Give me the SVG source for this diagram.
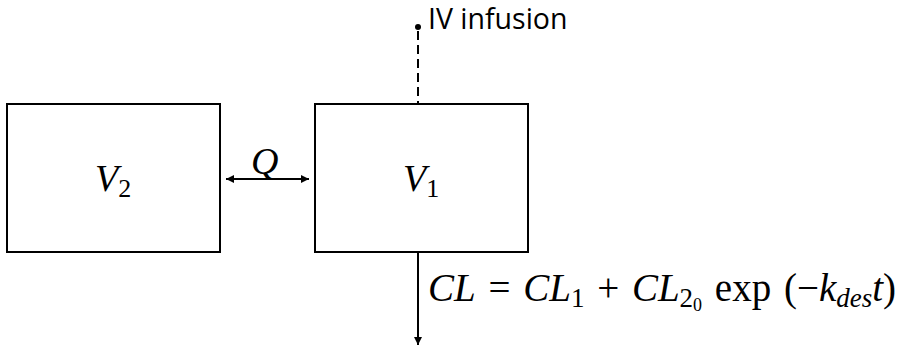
<svg xmlns="http://www.w3.org/2000/svg" width="898" height="349" viewBox="0 0 898 349">
<style>
.box{fill:#fff;stroke:#000;stroke-width:2}
.ln{stroke:#000;stroke-width:2;fill:none}
.m{font-family:"Liberation Serif","DejaVu Serif",serif;font-size:38px;fill:#000}
.eq{font-size:39px;word-spacing:3px}
.i{font-style:italic}
.lbl{font-family:"Open Sans","Liberation Sans",sans-serif;font-size:28.5px;fill:#000}
</style>
<defs>
<marker id="ah" viewBox="0 0 10 10" refX="10" refY="5" markerWidth="8" markerHeight="8" markerUnits="userSpaceOnUse" orient="auto-start-reverse">
<path d="M0,0 L10,5 L0,10 z" fill="#000"/>
</marker>
</defs>
<g id="V2">
<rect class="box" x="7" y="104" width="213" height="148"/>
<text class="m" x="95" y="191"><tspan class="i">V</tspan><tspan font-size="26" dy="6">2</tspan></text>
</g>
<g id="V1">
<rect class="box" x="315" y="104" width="213" height="148"/>
<text class="m" x="403" y="191"><tspan class="i">V</tspan><tspan font-size="26" dy="6">1</tspan></text>
</g>
<g id="infusion">
<circle cx="418" cy="27" r="3" fill="#000"/>
<text class="lbl" x="428" y="29">IV infusion</text>
</g>
<g id="connectors">
<line class="ln" x1="418" y1="31" x2="418" y2="104" stroke-dasharray="9,5"/>
<line class="ln" x1="226" y1="179" x2="309" y2="179" marker-start="url(#ah)" marker-end="url(#ah)"/>
<line class="ln" x1="418" y1="252" x2="418" y2="345" marker-end="url(#ah)"/>
</g>
<g id="labels">
<text class="m i" x="251" y="174">Q</text>
<text class="m eq" x="428" y="301"><tspan class="i">CL</tspan> = <tspan class="i">CL</tspan><tspan font-size="27" dy="6">1</tspan><tspan dy="-6"> + </tspan><tspan class="i">CL</tspan><tspan font-size="27" dy="6">2</tspan><tspan font-size="18" dy="4">0</tspan><tspan dy="-10"> exp (−</tspan><tspan class="i">k</tspan><tspan class="i" font-size="27" dy="6">des</tspan><tspan class="i" dy="-6">t</tspan>)</text>
</g>
</svg>
